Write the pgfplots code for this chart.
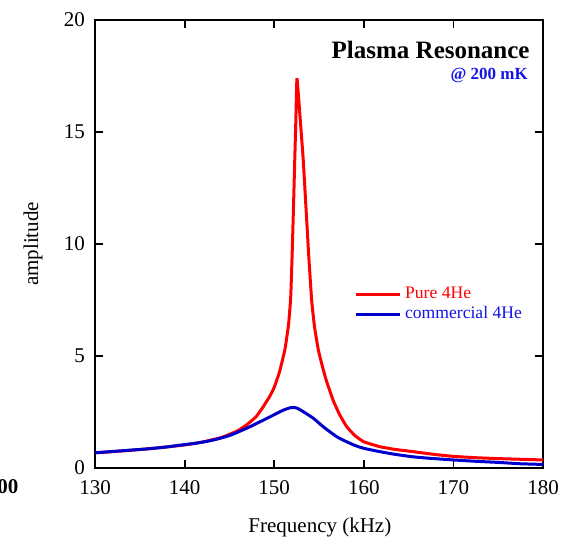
\documentclass[border=0pt]{standalone}
\usepackage{pgfplots}
\pgfplotsset{compat=1.18}
\usepackage{fontspec}
\setmainfont{Liberation Serif}
\definecolor{cred}{RGB}{255,0,0}
\definecolor{cblue}{RGB}{0,0,205}
\definecolor{tblue}{RGB}{20,20,230}
\begin{document}
\begin{tikzpicture}
\useasboundingbox (0pt,0pt) rectangle (285.5pt,271.5pt);
\node[anchor=west,font=\fontsize{10.5}{12}\selectfont\bfseries,inner sep=0pt] at (-1.5pt,28pt) {00};
\begin{axis}[
  at={(47.5pt,37.5pt)}, anchor=south west,
  scale only axis, width=224pt, height=224pt,
  xmin=130, xmax=180, ymin=0, ymax=20,
  xtick={130,140,...,180}, ytick={0,5,...,20},
  tick align=inside, major tick length=4pt,
  tick style={line width=0.9pt, black},
  axis line style={line width=1pt},
  minor tick num=0,
  /pgf/number format/assume math mode=true,
  ticklabel style={font=\fontsize{10.5}{12}\selectfont},
  xticklabel style={yshift=-2.5pt},
  yticklabel style={xshift=-1.5pt},
  xlabel={Frequency (kHz)}, ylabel={amplitude},
  label style={font=\fontsize{10.5}{12}\selectfont},
  xlabel style={at={(axis description cs:0.502,-0.132)}, anchor=center},
  ylabel style={at={(axis description cs:-0.138,0.5)}, anchor=center},
  legend style={at={(axis description cs:0.573,0.418)}, anchor=north west, draw=none, fill=none,
    font=\fontsize{8.8}{10}\selectfont, row sep=-1.5pt, inner sep=1pt},
  legend cell align=left,
  legend image code/.code={\draw[#1] (0pt,0pt) -- (22pt,0pt);},
]
\addplot[cred, line width=1.5pt, smooth, tension=0.2] coordinates {
(130,0.68) (132,0.73) (134,0.79) (136,0.86) (138,0.94) (140,1.03) (142,1.16) (144,1.35)
(145,1.50) (146,1.68) (147,1.95) (148,2.3) (148.8,2.75) (149.5,3.2) (150,3.6)
(150.6,4.3) (151.2,5.3) (151.6,6.4) (151.84,7.6) (152.0,9.5) (152.15,11.6) (152.29,13.7)
(152.42,15.6) (152.54,17.4) (152.9,15.6) (153.25,13.7) (153.55,11.6) (153.85,9.5)
(154.18,7.48) (154.5,6.3) (154.93,5.26) (155.4,4.5) (155.86,3.85) (156.6,3.0)
(157.3,2.38) (158.1,1.84) (159,1.45) (160,1.17) (161.8,0.95) (163.5,0.83) (165.5,0.73)
(168,0.60) (170,0.52) (172.5,0.46) (175,0.42) (177.5,0.39) (180,0.36)
};
\addlegendentry{\textcolor{cred}{Pure 4He}}
\addplot[cblue, line width=1.5pt, smooth, tension=0.4] coordinates {
(130,0.68) (132,0.74) (134,0.80) (136,0.86) (138,0.94) (139.5,1.02) (141.5,1.12) (143.2,1.25)
(145,1.45) (146.9,1.77) (148.5,2.08) (149.9,2.36) (151,2.58) (151.9,2.70) (152.5,2.68)
(153.3,2.50) (154.4,2.21) (155.3,1.90) (156.2,1.62) (157.1,1.37) (158.1,1.17) (159,1.01)
(160,0.88) (161.8,0.73) (163.5,0.61) (165.5,0.50) (167.5,0.43) (170,0.36) (172.5,0.30)
(175,0.25) (177.5,0.19) (180,0.16)
};
\addlegendentry{\textcolor{tblue}{commercial 4He}}
\node[anchor=east, font=\fontsize{12.5}{14}\selectfont\bfseries, inner sep=0pt] at (axis description cs:0.971,0.933) {Plasma Resonance};
\node[anchor=east, font=\fontsize{8.5}{10}\selectfont\bfseries, text=tblue, inner sep=0pt] at (axis description cs:0.967,0.876) {@ 200 mK};
\end{axis}
\end{tikzpicture}
\end{document}
